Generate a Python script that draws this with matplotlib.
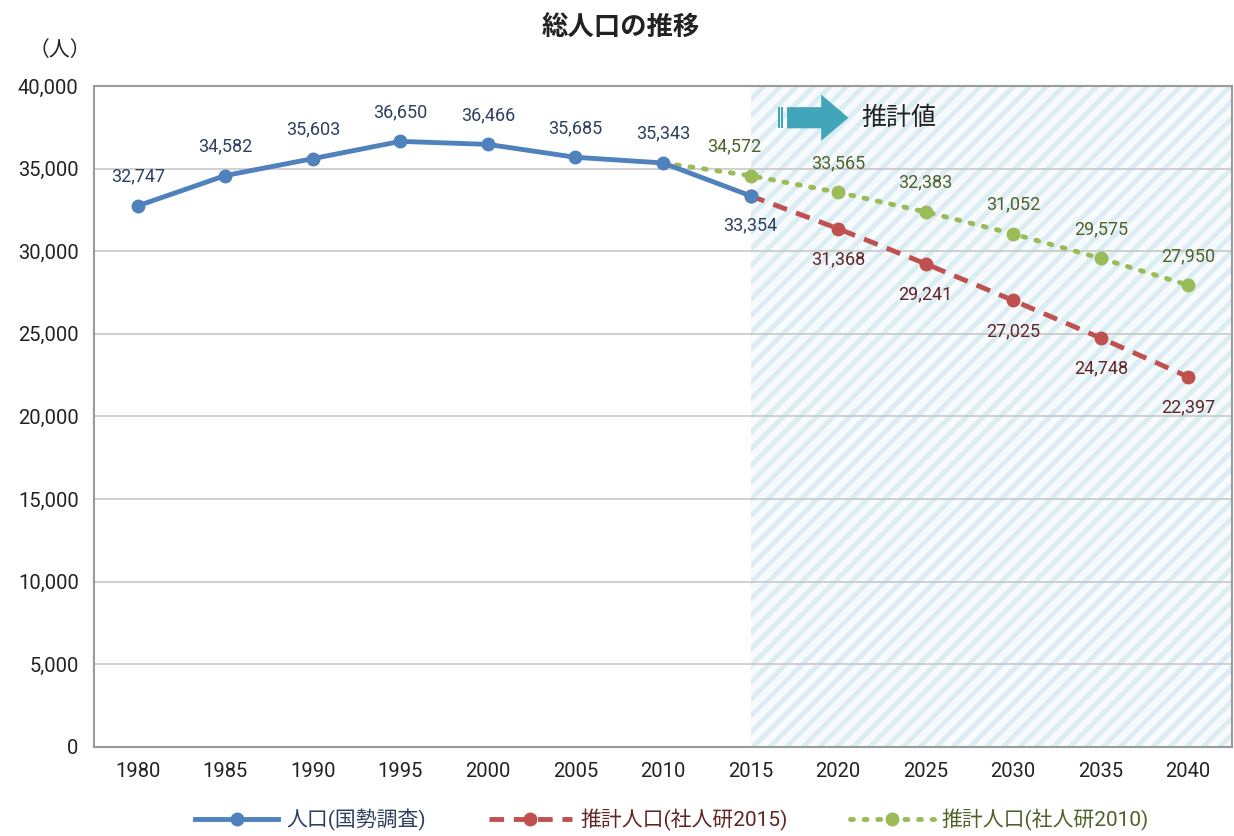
import matplotlib.pyplot as plt
import matplotlib.patches as mpatches
import numpy as np

plt.rcParams['font.family'] = ['Roboto', 'Noto Sans CJK JP', 'DejaVu Sans']
plt.rcParams['hatch.linewidth'] = 3.5
plt.rcParams['hatch.color'] = '#d9edf3'

years = ['1980', '1985', '1990', '1995', '2000', '2005', '2010', '2015',
         '2020', '2025', '2030', '2035', '2040']
actual = [32747, 34582, 35603, 36650, 36466, 35685, 35343, 33354]
proj2015 = [33354, 31368, 29241, 27025, 24748, 22397]
proj2010 = [35343, 34572, 33565, 32383, 31052, 29575, 27950]

x = np.arange(len(years))
x_act = x[:8]
x_p15 = x[7:]
x_p10 = x[6:]

c_blue, c_red, c_green = '#4F81BD', '#C0504D', '#9BBB59'
t_blue, t_red, t_green = '#2E3F5E', '#632523', '#4F6228'

fig = plt.figure(figsize=(12.34, 8.36), dpi=100)
ax = fig.add_axes([94 / 1234, 1 - 747 / 836, 1138 / 1234, 661 / 836])

# shaded forecast area
ax.add_patch(mpatches.Rectangle((7, 0), 5.5, 40000, facecolor='#f7fbfd',
                                edgecolor='#d9edf3', hatch='//', lw=0, zorder=0))

ax.plot(x_p10, proj2010, color=c_green, ls=(0, (0.6, 2.2)), lw=3.5,
        dash_capstyle='round', zorder=3)
ax.plot(x_p10[1:], proj2010[1:], ls='none', marker='o', ms=9, color=c_green, zorder=4)
ax.plot(x_p15, proj2015, color=c_red, ls=(0, (3, 2)), lw=3.5, marker='o', ms=9, zorder=4)
ax.plot(x_act, actual, color=c_blue, lw=3.5, marker='o', ms=9, zorder=5)

lab = dict(ha='center', va='center', fontsize=13, textcoords='offset points')
for i, v in zip(x_act, actual):
    dy = -21 if i == 7 else 21
    ax.annotate(f'{v:,}', (i, v), xytext=(0, dy), color=t_blue, **lab)
for i, v in zip(x_p15[1:], proj2015[1:]):
    ax.annotate(f'{v:,}', (i, v), xytext=(0, -22), color=t_red, **lab)
for i, v in zip(x_p10[1:], proj2010[1:]):
    ax.annotate(f'{v:,}', (i, v), xytext=(-12 if i == 7 else 0, 21), color=t_green, **lab)

ax.set_xlim(-0.5, 12.5)
ax.set_ylim(0, 40000)
ax.set_xticks(x)
ax.set_xticklabels(years)
yt = np.arange(0, 40001, 5000)
ax.set_yticks(yt)
ax.set_yticklabels([f'{v:,}' for v in yt])
ax.tick_params(axis='both', length=0, labelsize=14.5, colors='#222222', pad=11)
ax.grid(axis='y', color='#c8c8c8', lw=1.2)
ax.set_axisbelow(True)
for s in ax.spines.values():
    s.set_color('#9a9a9a')
    s.set_linewidth(1.5)

# arrow and label
ax.add_patch(mpatches.FancyArrow(0.609, 0.952, 0.03, 0, width=0.032, head_width=0.07,
                                 head_length=0.024, transform=ax.transAxes,
                                 color='#43A5B9', lw=0, zorder=6))
for dx in (0.601, 0.604):
    ax.add_patch(mpatches.Rectangle((dx, 0.936), 0.0015, 0.032, transform=ax.transAxes,
                                    color='#43A5B9', lw=0, zorder=6))
ax.text(0.674, 0.952, '推計値', transform=ax.transAxes, fontsize=18,
        ha='left', va='center', color='#222222')

fig.text(621 / 1234, 1 - 28 / 836, '総人口の推移', ha='center', va='center',
         fontsize=19, fontweight='bold', color='#222222')
fig.text(60 / 1234, 1 - 50 / 836, '（人）', ha='center', va='center',
         fontsize=15, color='#222222')

h1, = ax.plot([], [], color=c_blue, lw=3.5, marker='o', ms=9)
h2, = ax.plot([], [], color=c_red, ls=(0, (3, 2)), lw=3.5, marker='o', ms=9)
h3, = ax.plot([], [], color=c_green, ls=(0, (0.6, 2.2)), lw=3.5, marker='o', ms=9,
              dash_capstyle='round')
leg = fig.legend([h1, h2, h3], ['人口(国勢調査)', '推計人口(社人研2015)', '推計人口(社人研2010)'],
                 loc='center', bbox_to_anchor=(672 / 1234, 1 - 820 / 836), ncol=3,
                 frameon=False, fontsize=15, handlelength=4.0, handletextpad=0.4,
                 columnspacing=3.0)
for t, c in zip(leg.get_texts(), [t_blue, t_red, t_green]):
    t.set_color(c)

fig.savefig('out.png', dpi=100)
